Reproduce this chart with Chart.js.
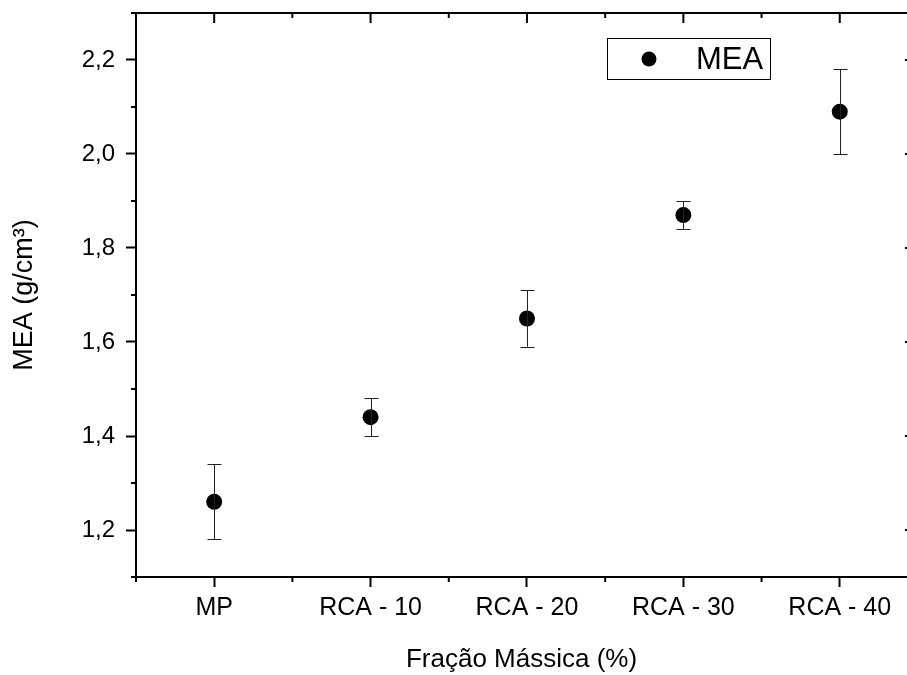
<!DOCTYPE html>
<html>
<head>
<meta charset="utf-8">
<script src="https://cdn.jsdelivr.net/npm/chart.js@4"></script>
<style>
html,body{margin:0;padding:0;background:#fff;overflow:hidden;}
#wrap{width:907px;height:675px;}
</style>
</head>
<body>
<div id="wrap"><canvas id="c" width="907" height="675"></canvas></div>
<script>
const categories = ['MP', 'RCA - 10', 'RCA - 20', 'RCA - 30', 'RCA - 40'];
const meaValues = [1.26, 1.44, 1.65, 1.87, 2.09];
const errLow = [1.18, 1.40, 1.59, 1.84, 2.00];
const errHigh = [1.34, 1.48, 1.71, 1.90, 2.18];
const yTickValues = [1.2, 1.4, 1.6, 1.8, 2.0, 2.2];
const yMinorValues = [1.1, 1.3, 1.5, 1.7, 1.9, 2.1, 2.3];
const xMinorValues = [-0.5, 0.5, 1.5, 2.5, 3.5, 4.5];
const xAxisMin = -0.5;
const xAxisFrameMax = 4.5;   // right frame of the plot (just outside the picture)
const xAxisVisibleMax = 4.43; // picture is cut at this value
const seriesLabel = 'MEA';
const xTitle = 'Fração Mássica (%)';
const yTitle = 'MEA (g/cm³)';

const FONT = 'Liberation Sans, Arial, sans-serif';

const axesPlugin = {
  id: 'axesExtra',
  afterDatasetsDraw(chart) {
    const ctx = chart.ctx, xs = chart.scales.x, ys = chart.scales.y;
    ctx.save();
    ctx.strokeStyle = '#222';
    ctx.lineWidth = 1;
    meaValues.forEach((v, i) => {
      const px = Math.round(xs.getPixelForValue(i)) + 0.5;
      const lo = ys.getPixelForValue(errLow[i]);
      const hi = ys.getPixelForValue(errHigh[i]);
      ctx.beginPath();
      ctx.moveTo(px, hi); ctx.lineTo(px, lo);
      ctx.moveTo(px - 7, Math.round(hi) + 0.5); ctx.lineTo(px + 7, Math.round(hi) + 0.5);
      ctx.moveTo(px - 7, Math.round(lo) + 0.5); ctx.lineTo(px + 7, Math.round(lo) + 0.5);
      ctx.stroke();
    });
    ctx.restore();
  },
  afterDraw(chart) {
    const ctx = chart.ctx, xs = chart.scales.x, ys = chart.scales.y;
    const a = chart.chartArea;
    const rightX = xs.getPixelForValue(xAxisFrameMax);
    ctx.save();
    ctx.strokeStyle = '#000';
    ctx.lineWidth = 2;
    ctx.beginPath();
    ctx.moveTo(a.left - 1, a.top); ctx.lineTo(rightX + 1, a.top);
    ctx.moveTo(a.right, a.bottom); ctx.lineTo(rightX + 1, a.bottom);
    ctx.moveTo(rightX, a.top); ctx.lineTo(rightX, a.bottom);
    categories.forEach((c, i) => {
      const px = xs.getPixelForValue(i);
      ctx.moveTo(px, a.top); ctx.lineTo(px, a.top + 10);
    });
    yTickValues.forEach(v => {
      const py = ys.getPixelForValue(v);
      ctx.moveTo(rightX, py); ctx.lineTo(rightX - 13, py);
    });
    xMinorValues.forEach(v => {
      const px = xs.getPixelForValue(v);
      ctx.moveTo(px, a.bottom); ctx.lineTo(px, a.bottom + 5);
      ctx.moveTo(px, a.top); ctx.lineTo(px, a.top + 5);
    });
    yMinorValues.forEach(v => {
      const py = ys.getPixelForValue(v);
      ctx.moveTo(a.left, py); ctx.lineTo(a.left - 5, py);
      ctx.moveTo(rightX, py); ctx.lineTo(rightX - 5, py);
    });
    ctx.stroke();

    // legend
    ctx.lineWidth = 1;
    ctx.strokeStyle = '#000';
    ctx.strokeRect(607.5, 38.5, 163, 41);
    ctx.fillStyle = '#000';
    ctx.beginPath();
    ctx.arc(649, 59, 7.5, 0, Math.PI * 2);
    ctx.fill();
    ctx.font = '31px ' + FONT;
    ctx.textBaseline = 'middle';
    ctx.textAlign = 'left';
    ctx.fillText(seriesLabel, 696, 60);
    ctx.restore();
  }
};

new Chart(document.getElementById('c'), {
  type: 'scatter',
  data: {
    datasets: [{
      label: seriesLabel,
      data: meaValues.map((v, i) => ({x: i, y: v})),
      pointRadius: 8,
      pointHoverRadius: 8,
      pointBackgroundColor: '#000',
      pointBorderColor: '#000',
      pointBorderWidth: 0,
      showLine: false
    }]
  },
  options: {
    responsive: false,
    animation: false,
    events: [],
    layout: {autoPadding: false, padding: {top: 13, right: 0, left: 0, bottom: 0}},
    plugins: {legend: {display: false}, tooltip: {enabled: false}},
    scales: {
      x: {
        type: 'linear',
        position: 'bottom',
        min: xAxisMin,
        max: xAxisVisibleMax,
        afterBuildTicks(scale) { scale.ticks = categories.map((c, i) => ({value: i})); },
        afterFit(scale) { scale.height = 98; scale.paddingLeft = 0; scale.paddingRight = 0; },
        border: {display: true, color: '#000', width: 2},
        grid: {display: true, drawOnChartArea: false, drawTicks: true, tickLength: 10, tickWidth: 2, tickColor: '#000'},
        ticks: {
          autoSkip: false,
          maxRotation: 0,
          padding: 6,
          color: '#000',
          font: {family: FONT, size: 25},
          callback: (v) => categories[v] ?? ''
        },
        title: {display: true, text: xTitle, color: '#000', font: {family: FONT, size: 26}, padding: {top: 0, bottom: 0}}
      },
      y: {
        type: 'linear',
        position: 'left',
        min: 1.1,
        max: 2.3,
        afterBuildTicks(scale) { scale.ticks = yTickValues.map(v => ({value: v})); },
        afterFit(scale) { scale.width = 136; scale.paddingTop = 0; scale.paddingBottom = 0; },
        border: {display: true, color: '#000', width: 2},
        grid: {display: true, drawOnChartArea: false, drawTicks: true, tickLength: 10, tickWidth: 2, tickColor: '#000'},
        ticks: {
          padding: 11,
          color: '#000',
          font: {family: FONT, size: 24},
          callback: (v) => Number(v).toFixed(1).replace('.', ',')
        },
        title: {display: true, text: yTitle, color: '#000', font: {family: FONT, size: 27}, padding: {top: 8, bottom: 0}}
      }
    }
  },
  plugins: [axesPlugin]
});
</script>
</body>
</html>
